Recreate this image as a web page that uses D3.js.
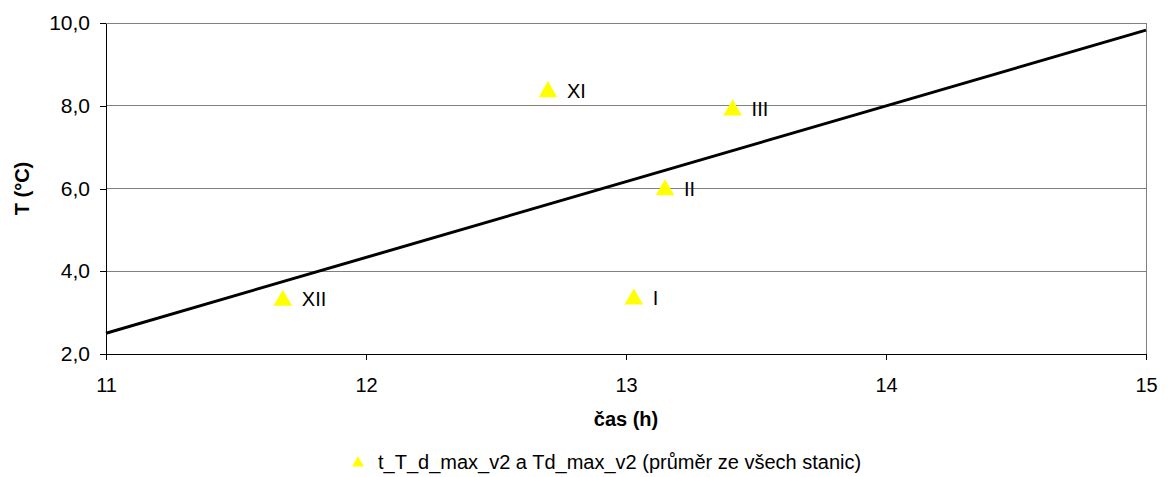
<!DOCTYPE html>
<html><head><meta charset="utf-8">
<script src="https://cdn.jsdelivr.net/npm/d3@7"></script>
<style>body{margin:0;background:#fff}svg{display:block}text{font-family:"Liberation Sans",Arial,sans-serif}</style>
</head><body>
<script>
const months = ["XII","I","XI","III","II"];
const hours = [11.68, 13.03, 12.70, 13.41, 13.15];
const temps = [3.32, 3.35, 8.36, 7.92, 5.99];
const xTicks = [11, 12, 13, 14, 15];
const yTicks = [2, 4, 6, 8, 10];
const seriesName = "t_T_d_max_v2 a Td_max_v2 (průměr ze všech stanic)";
const xTitle = "čas (h)";
const yTitle = "T (°C)";

const W = 1169, H = 477;
const m = {left:106, right:1169-1146, top:23, bottom:477-354};
const svg = d3.select("body").append("svg").attr("width",W).attr("height",H);
const x = d3.scaleLinear().domain([11,15]).range([m.left, W-m.right]);
const y = d3.scaleLinear().domain([2,10]).range([H-m.bottom, m.top]);
const fmt = d => d.toFixed(1).replace(".", ",");

// gridlines
svg.append("g").selectAll("line").data(yTicks.filter(d=>d>2)).join("line")
  .attr("x1",x(11)).attr("x2",x(15)).attr("y1",d=>y(d)).attr("y2",d=>y(d))
  .attr("stroke","#808080").attr("stroke-width",1).attr("shape-rendering","crispEdges");
// right border
svg.append("line").attr("x1",x(15)).attr("x2",x(15)).attr("y1",y(10)).attr("y2",y(2))
  .attr("stroke","#808080").attr("shape-rendering","crispEdges");

const yAxis = svg.append("g").attr("transform",`translate(${x(11)},0)`)
  .call(d3.axisLeft(y).tickValues(yTicks).tickFormat(fmt).tickSize(6).tickSizeOuter(0));
const xAxis = svg.append("g").attr("transform",`translate(0,${y(2)})`)
  .call(d3.axisBottom(x).tickValues(xTicks).tickFormat(d3.format("d")).tickSize(6).tickSizeOuter(0));
[yAxis,xAxis].forEach(g=>{
  g.selectAll("path,line").attr("stroke","#000").attr("shape-rendering","crispEdges");
  g.selectAll("text").attr("font-size",20).attr("fill","#000").attr("font-family",'"Liberation Sans",Arial,sans-serif');
});
yAxis.selectAll("text").attr("font-size",21).attr("dx",-7);
xAxis.selectAll("text").attr("dy","1.45em");

// trendline (least squares through the points)
const mx = d3.mean(hours), my = d3.mean(temps);
const slope = d3.sum(hours.map((h,i)=>(h-mx)*(temps[i]-my))) / d3.sum(hours.map(h=>(h-mx)*(h-mx)));
const icpt = my - slope*mx;
svg.append("line").attr("x1",x(11)).attr("y1",y(icpt+slope*11))
  .attr("x2",x(15)).attr("y2",y(icpt+slope*15))
  .attr("stroke","#000").attr("stroke-width",3);

const tri = d3.symbol().type(d3.symbolTriangle).size(150);
const pts = months.map((mo,i)=>({mo, h:hours[i], t:temps[i]}));
const g = svg.append("g");
g.selectAll("path").data(pts).join("path")
  .attr("d",tri).attr("transform",d=>`translate(${x(d.h)},${y(d.t)+1})`)
  .attr("fill","#ffff00");
g.selectAll("text").data(pts).join("text")
  .attr("x",d=>x(d.h)+19).attr("y",d=>y(d.t)).attr("dy","0.35em")
  .attr("font-size",20).text(d=>d.mo);

svg.append("text").attr("transform",`translate(29,${(y(2)+y(10))/2}) rotate(-90)`)
  .attr("text-anchor","middle").attr("font-weight","bold").attr("font-size",20).text(yTitle);
svg.append("text").attr("x",(x(11)+x(15))/2).attr("y",426)
  .attr("text-anchor","middle").attr("font-weight","bold").attr("font-size",20).text(xTitle);

const lg = svg.append("g");
lg.append("text").attr("x",378).attr("y",462).attr("dy","0.35em").attr("font-size",20).text(seriesName);
lg.append("path").attr("d",d3.symbol().type(d3.symbolTriangle).size(60)).attr("transform","translate(358,463)").attr("fill","#ffff00");
</script>
</body></html>
